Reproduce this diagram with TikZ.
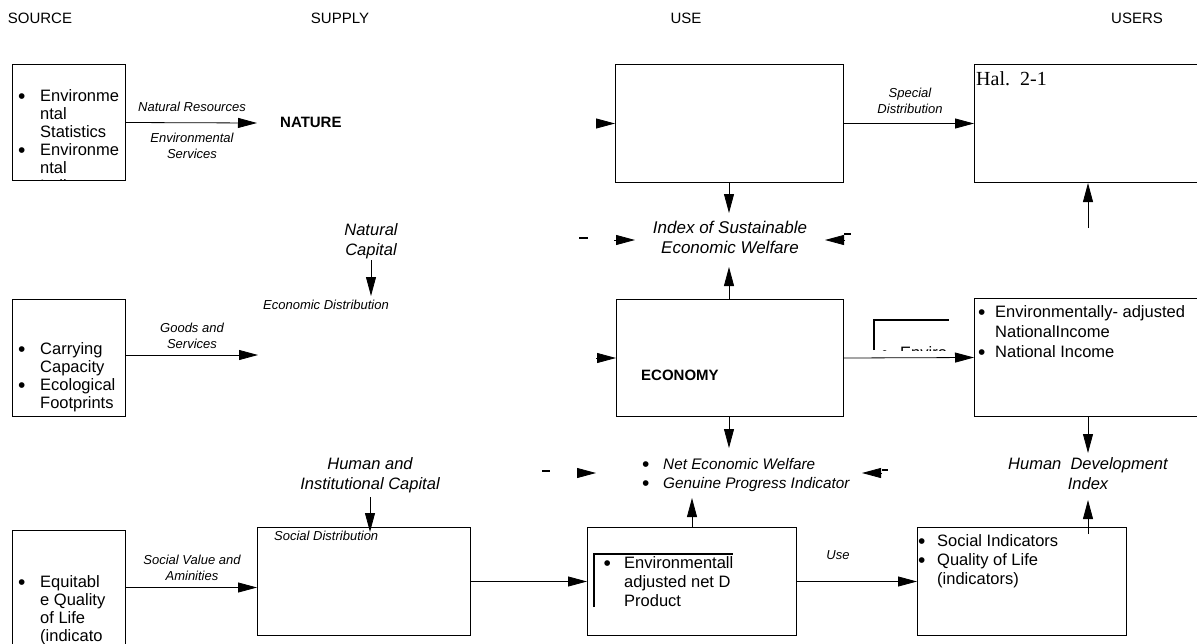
\documentclass[tikz,border=0pt]{standalone}
\usepackage{fontspec}
\setmainfont{Liberation Sans}
\newfontfamily\halfont{Liberation Serif}
\usetikzlibrary{positioning,arrows.meta,calc}

\tikzset{
  blk/.style={draw, line width=1pt, anchor=north west, inner sep=0pt},
  arr/.style={line width=0.8pt, -{Triangle[length=19pt,width=10pt]}},
  lbl/.style={font=\fontsize{13}{16}\selectfont\itshape, align=center, inner sep=0pt},
  capt/.style={font=\fontsize{16.5}{20}\selectfont\itshape, align=center, inner sep=0pt},
  hdr/.style={font=\fontsize{15}{18}\selectfont, inner sep=0pt},
  lst/.style={font=\fontsize{16.5}{18}\selectfont, align=left, anchor=north west, inner sep=0pt},
  bold/.style={font=\fontsize{15}{16}\selectfont\bfseries, anchor=west, inner sep=0pt},
}
\newcommand{\bul}[1][21pt]{\makebox[#1][l]{\hspace*{-1pt}\raisebox{-2pt}{\fontsize{21}{0}\selectfont\upshape\textbullet}}}
\newcommand{\ind}[1][21pt]{\hspace*{#1}}

\begin{document}
\begin{tikzpicture}[x=1pt, y=-1pt]

\useasboundingbox (0,0) rectangle (1197,643);
\clip (0,0) rectangle (1197,643);

% column heads
\node[hdr] (hsource) at (40,18) {SOURCE};
\node[hdr] (hsupply) at (340,18) {SUPPLY};
\node[hdr] (huse) at (686,18) {USE};
\node[hdr] (husers) at (1137,18) {USERS};

% source boxes
\node[blk, minimum width=113pt, minimum height=116pt] (src1) at (12,64) {};
\node[blk, minimum width=113pt, minimum height=117pt] (src2) at (12,299) {};
\node[blk, minimum width=113pt, minimum height=114pt] (src3) at (12,530) {};

\begin{scope}
\clip (12,64) rectangle (125,180);
\node[lst] (src1txt) at (19,89) {\bul Environme\\\ind ntal\\\ind Statistics\\\bul Environme\\\ind ntal\\\ind Indicators};
\end{scope}
\node[lst] (src2txt) at (19,342) {\bul Carrying\\\ind Capacity\\\bul Ecological\\\ind Footprints};
\node[lst] (src3txt) at (19,575) {\bul Equitabl\\\ind e Quality\\\ind of Life\\\ind (indicato};

% supply side
\node[bold] (nature) at (280,122) {NATURE};
\node[lbl] (natres) at (192,107) {Natural Resources};
\node[lbl] (envserv) at (192,146) {Environmental\\Services};
\node[lbl] (goods) at (192,336) {Goods and\\Services};
\node[lbl] (socval) at (192,568) {Social Value and\\Aminities};
\node[capt] (natcap) at (371,241) {Natural\\Capital};
\node[lbl] (ecodist) at (326,305) {Economic Distribution};
\node[capt] (humcap) at (370,475) {Human and\\Institutional Capital};
\node[blk, minimum width=213pt, minimum height=108pt] (soc) at (257,527) {};
\node[lbl, anchor=west] (socdist) at (274,536) {Social Distribution};

\coordinate (natin) at (257,123);
\coordinate (goodsin) at (258,355);
\coordinate (natcapend) at (371,296);
\coordinate (humcapend) at (370,532);
\draw[arr] (src1.east) -- (natin);
\draw[arr] (src2.east |- goodsin) -- (goodsin);
\draw[arr] (src3.east) -- (src3.east -| soc.west);
\draw[arr] (natcap.south |- 0,260) -- (natcapend);
\draw[arr] (humcap.south |- 0,497) -- (humcapend);

% use boxes
\node[blk, minimum width=228pt, minimum height=118pt] (usetop) at (615,64) {};
\node[blk, minimum width=227pt, minimum height=117pt] (eco) at (616,299) {};
\node[blk, minimum width=209pt, minimum height=108pt] (useb) at (587,527) {};
\node[bold] (economy) at (641,375) {ECONOMY};
\begin{scope}
\clip (594,554) rectangle (733,612);
\node[lst, font=\fontsize{16.5}{19}\selectfont] (usebtxt) at (604.5,556) {\bul[19.5pt]Environmentall\\\ind[19.5pt]adjusted net D\\\ind[19.5pt]Product};
\end{scope}
\draw[line width=1.2pt] (594,607) -- (594,554) -- (733,554);

\node[capt, font=\fontsize{17}{20}\selectfont\itshape] (isew) at (730,237) {Index of Sustainable\\Economic Welfare};
\node[lst, font=\fontsize{15.3}{19}\selectfont\itshape] (new) at (643,458) {\bul[20pt]Net Economic Welfare\\\bul[20pt]Genuine Progress Indicator};

\draw[arr] ($(usetop.west)+(-19,0)$) -- (usetop.west);
\draw[arr] ($(eco.west)+(-20,0)$) -- (eco.west);
\draw[arr] (soc.east) -- (useb.west);
\draw[arr] (usetop.south -| 729,0) -- (729,213);
\draw[arr] (eco.north -| 729,0) -- (729,267);
\draw[arr] (eco.south -| 729,0) -- (729,448);
\draw[arr] (useb.north) -- (692,498);

% loose heads round the indicators
\coordinate (isewl) at (635,240);
\coordinate (isewr) at (825,240);
\coordinate (newl) at (596,473);
\coordinate (newr) at (862,473);
\draw[arr] ($(isewl)+(-21,0)$) -- (isewl);
\draw[arr] ($(isewr)+(20,0)$) -- (isewr);
\draw[arr] ($(newl)+(-19,0)$) -- (newl);
\draw[arr] ($(newr)+(20,0)$) -- (newr);
\draw[line width=1.5pt] (579,238) -- (588,238);
\draw[line width=1.5pt] (844,234) -- (851,234);
\draw[line width=1.5pt] (542,471) -- (550,471);
\draw[line width=1.5pt] (882,470) -- (888,470);

% users boxes
\node[blk, minimum width=240pt, minimum height=118pt] (usrtop) at (974,64) {};
\node[blk, minimum width=240pt, minimum height=118pt] (usrmid) at (974,298) {};
\node[blk, minimum width=209pt, minimum height=108pt] (usrb) at (917,527) {};
\node[anchor=west, inner sep=0pt, font=\halfont\fontsize{20}{24}\selectfont] (hal) at (976,79) {Hal.\ \ 2-1};
\node[lst, font=\fontsize{16.5}{20}\selectfont] (usrmidtxt) at (979,305) {\bul[16pt]Environmentally- adjusted\\\ind[16pt]NationalIncome\\\bul[16pt]National Income};
\node[lst, font=\fontsize{16.5}{19}\selectfont] (usrbtxt) at (919,534) {\bul[18pt]Social Indicators\\\bul[18pt]Quality of Life\\\ind[18pt](indicators)};
\node[capt] (hdi) at (1088,474) {Human\ \ Development\\Index};
\node[lbl] (special) at (910,101) {Special\\Distribution};
\node[lbl] (uselbl) at (838,555) {Use};

\begin{scope}
\clip (874,320) rectangle (949,350);
\node[lst, font=\fontsize{16.5}{19}\selectfont] (ecofrag) at (882,346) {\bul[18pt]Enviro};
\end{scope}
\draw[line width=1.2pt] (874,350) -- (874,320) -- (949,320);

\coordinate (hdiup) at (1088,228);
\coordinate (hdibot) at (1088,534);
\draw[arr] (usetop.east) -- (usrtop.west);
\draw[arr] (eco.east) -- (usrmid.west);
\draw[arr] (useb.east) -- (usrb.west);
\draw[arr] (hdiup) -- (hdiup |- usrtop.south);
\draw[arr] (usrmid.south -| hdiup) -- (1088,453);
\draw[arr] (hdibot) -- (1088,500);

\end{tikzpicture}
\end{document}
